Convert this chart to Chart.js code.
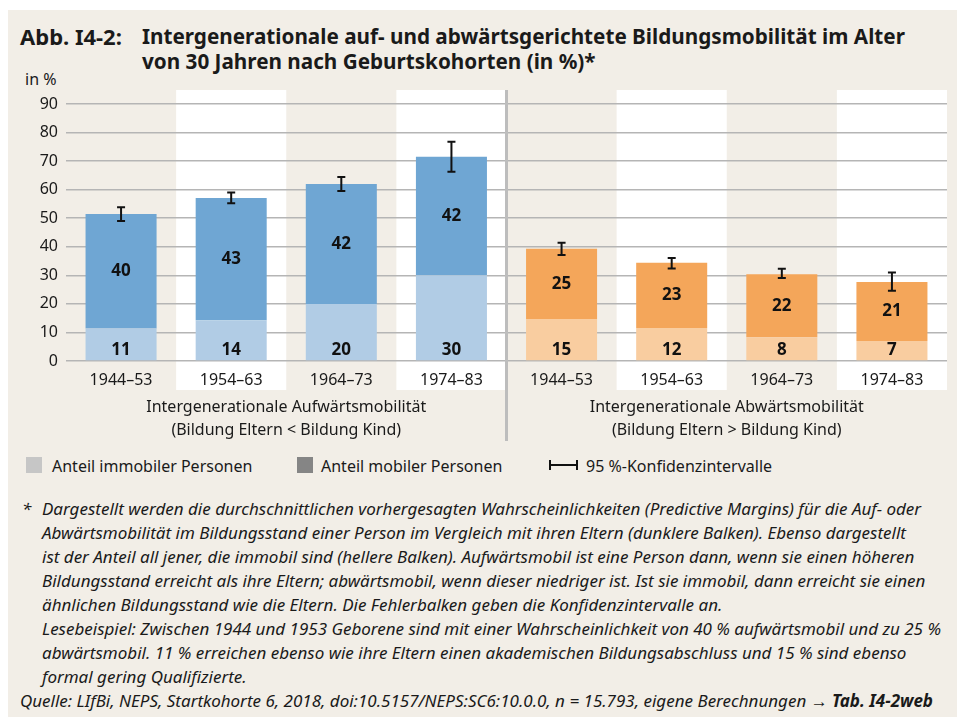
<!DOCTYPE html>
<html>
<head>
<meta charset="utf-8">
<script src="https://cdn.jsdelivr.net/npm/chart.js@4.4.1/dist/chart.umd.min.js"></script>
<style>
  html, body { margin: 0; padding: 0; background: #fff; }
  body { width: 957px; height: 717px; position: relative; overflow: hidden; font-family: "Noto Sans", sans-serif; color: #1a1a1a; }
  #panel { position: absolute; left: 8px; top: 10px; width: 949px; height: 707px; background: #f2eee7; }
  .title { position: absolute; font-weight: bold; font-size: 20.7px; white-space: nowrap; line-height: 25px; }
  #unit { position: absolute; left: 25px; top: 68px; font-size: 16px; }
  #chartBox { position: absolute; left: 0; top: 70px; width: 957px; height: 380px; }
  .leg { position: absolute; top: 455px; font-size: 16px; white-space: nowrap; }
  .sq { position: absolute; width: 16px; height: 16px; top: 457px; }
  #notes { position: absolute; left: 20px; top: 497px; font-style: italic; font-size: 17px; line-height: 24px; white-space: nowrap; }
  #notes div { padding-left: 22px; }
  #notes .star { position: absolute; left: 2px; padding: 0; }
  #notes .src { padding-left: 0; }
</style>
</head>
<body>
<div id="panel"></div>
<div class="title" style="left:20px; top:24px; font-size:22px;">Abb. I4-2:</div>
<div class="title" style="left:142px; top:24px;">Intergenerationale auf- und abwärtsgerichtete Bildungsmobilität im Alter<br>von 30 Jahren nach Geburtskohorten (in %)*</div>
<div id="unit">in %</div>
<div id="chartBox"><canvas id="chart"></canvas></div>

<div class="sq" style="left:26px; background:#c6c6c6;"></div>
<div class="leg" style="left:52px;">Anteil immobiler Personen</div>
<div class="sq" style="left:297px; background:#858585;"></div>
<div class="leg" style="left:321px;">Anteil mobiler Personen</div>
<svg style="position:absolute; left:549px; top:458px;" width="30" height="14"><path d="M1 2 V12 M1 7 H28 M28 2 V12" stroke="#111" stroke-width="2" fill="none"/></svg>
<div class="leg" style="left:586px;">95 %-Konfidenzintervalle</div>

<div id="notes">
  <div class="star">*</div>
  <div>Dargestellt werden die durchschnittlichen vorhergesagten Wahrscheinlichkeiten (Predictive Margins) für die Auf- oder</div>
  <div>Abwärtsmobilität im Bildungsstand einer Person im Vergleich mit ihren Eltern (dunklere Balken). Ebenso dargestellt</div>
  <div>ist der Anteil all jener, die immobil sind (hellere Balken). Aufwärtsmobil ist eine Person dann, wenn sie einen höheren</div>
  <div>Bildungsstand erreicht als ihre Eltern; abwärtsmobil, wenn dieser niedriger ist. Ist sie immobil, dann erreicht sie einen</div>
  <div>ähnlichen Bildungsstand wie die Eltern. Die Fehlerbalken geben die Konfidenzintervalle an.</div>
  <div>Lesebeispiel: Zwischen 1944 und 1953 Geborene sind mit einer Wahrscheinlichkeit von 40 % aufwärtsmobil und zu 25 %</div>
  <div>abwärtsmobil. 11 % erreichen ebenso wie ihre Eltern einen akademischen Bildungsabschluss und 15 % sind ebenso</div>
  <div>formal gering Qualifizierte.</div>
  <div class="src">Quelle: LIfBi, NEPS, Startkohorte 6, 2018, doi:10.5157/NEPS:SC6:10.0.0, n = 15.793, eigene Berechnungen <b>→ Tab. I4-2web</b></div>
</div>

<script>
// cohorts, first four = upward mobility, last four = downward mobility
const cohorts = ['1944–53', '1954–63', '1964–73', '1974–83', '1944–53', '1954–63', '1964–73', '1974–83'];
const groupTitles = [
    ['Intergenerationale Aufwärtsmobilität', '(Bildung Eltern < Bildung Kind)'],
    ['Intergenerationale Abwärtsmobilität', '(Bildung Eltern > Bildung Kind)']
];
// values in %
const immobile = [11.4, 14.3, 20.0, 30.0, 14.7, 11.6, 8.3, 7.0];
const mobile   = [40.1, 42.8, 42.0, 41.5, 24.6, 22.8, 22.1, 20.7];
// 95% confidence intervals of the total (immobile + mobile)
const ciLow  = [49.0, 55.2, 59.5, 66.3, 37.1, 32.4, 29.1, 24.6];
const ciHigh = [53.8, 59.0, 64.4, 76.8, 41.4, 36.1, 32.3, 31.0];
const yTicks = [0, 10, 20, 30, 40, 50, 60, 70, 80, 90];

const lightColors = ['#b1cce5', '#b1cce5', '#b1cce5', '#b1cce5', '#f9cda0', '#f9cda0', '#f9cda0', '#f9cda0'];
const darkColors  = ['#6fa6d3', '#6fa6d3', '#6fa6d3', '#6fa6d3', '#f4a65a', '#f4a65a', '#f4a65a', '#f4a65a'];

const FONT = '"Noto Sans", sans-serif';

// white background stripes behind every second cohort + divider line
const stripes = {
    id: 'stripes',
    beforeDraw(chart) {
        const { ctx, chartArea, scales: { x } } = chart;
        const slot = (chartArea.right - chartArea.left) / cohorts.length;
        ctx.save();
        ctx.fillStyle = '#ffffff';
        cohorts.forEach((c, i) => {
            if (i % 2 === 1) {
                const cx = x.getPixelForValue(i);
                ctx.fillRect(cx - slot / 2, chartArea.top - 14, slot, chartArea.bottom - chartArea.top + 43);
            }
        });
        ctx.restore();
    },
    afterDraw(chart) {
        const { ctx, chartArea, scales: { x } } = chart;
        const mid = (x.getPixelForValue(3) + x.getPixelForValue(4)) / 2;
        ctx.save();
        ctx.strokeStyle = '#bdbdbd';
        ctx.lineWidth = 3;
        ctx.beginPath();
        ctx.moveTo(mid, chartArea.top - 14);
        ctx.lineTo(mid, chartArea.bottom + 80);
        ctx.stroke();

        // group titles
        ctx.fillStyle = '#1a1a1a';
        ctx.font = '16px ' + FONT;
        ctx.textAlign = 'center';
        ctx.textBaseline = 'middle';
        [[0, 3], [4, 7]].forEach((g, k) => {
            const gx = (x.getPixelForValue(g[0]) + x.getPixelForValue(g[1])) / 2;
            ctx.fillText(groupTitles[k][0], gx, chartArea.bottom + 46);
            ctx.fillText(groupTitles[k][1], gx, chartArea.bottom + 69);
        });
        ctx.restore();
    }
};

// value labels and error bars
const overlay = {
    id: 'overlay',
    afterDatasetsDraw(chart) {
        const { ctx, scales: { x, y } } = chart;
        ctx.save();
        ctx.fillStyle = '#111';
        ctx.font = 'bold 17px ' + FONT;
        ctx.textAlign = 'center';
        ctx.textBaseline = 'middle';
        cohorts.forEach((c, i) => {
            const cx = x.getPixelForValue(i);
            ctx.fillText(Math.round(immobile[i]), cx, y.getPixelForValue(0) - 11);
            const midV = immobile[i] + mobile[i] / 2;
            ctx.fillText(Math.round(mobile[i]), cx, y.getPixelForValue(midV));

            // error bar
            const yl = y.getPixelForValue(ciLow[i]);
            const yh = y.getPixelForValue(ciHigh[i]);
            ctx.strokeStyle = '#111';
            ctx.lineWidth = 2;
            ctx.beginPath();
            ctx.moveTo(cx, yl); ctx.lineTo(cx, yh);
            ctx.moveTo(cx - 4, yl); ctx.lineTo(cx + 4, yl);
            ctx.moveTo(cx - 4, yh); ctx.lineTo(cx + 4, yh);
            ctx.stroke();
        });
        ctx.restore();
    }
};

new Chart(document.getElementById('chart'), {
    type: 'bar',
    data: {
        labels: cohorts,
        datasets: [
            { label: 'Anteil immobiler Personen', data: immobile, backgroundColor: lightColors },
            { label: 'Anteil mobiler Personen', data: mobile, backgroundColor: darkColors }
        ]
    },
    options: {
        responsive: true,
        maintainAspectRatio: false,
        animation: false,
        layout: { padding: { top: 34, right: 10, left: 0, bottom: 59 } },
        datasets: { bar: { categoryPercentage: 1, barPercentage: 0.645 } },
        plugins: {
            legend: { display: false },
            tooltip: { enabled: false }
        },
        scales: {
            x: {
                stacked: true,
                grid: { display: false },
                border: { display: false },
                ticks: { color: '#1a1a1a', font: { family: FONT, size: 16 }, padding: 2 },
                afterFit: s => { s.height = 30; }
            },
            y: {
                stacked: true,
                min: 0,
                max: 90,
                afterBuildTicks: s => { s.ticks = yTicks.map(v => ({ value: v })); },
                grid: { color: '#b5b5b5', lineWidth: 1.5, drawTicks: false },
                border: { display: false },
                ticks: { color: '#1a1a1a', font: { family: FONT, size: 16 }, padding: 8 },
                afterFit: s => { s.width = 66; }
            }
        }
    },
    plugins: [stripes, overlay]
});
</script>
</body>
</html>
